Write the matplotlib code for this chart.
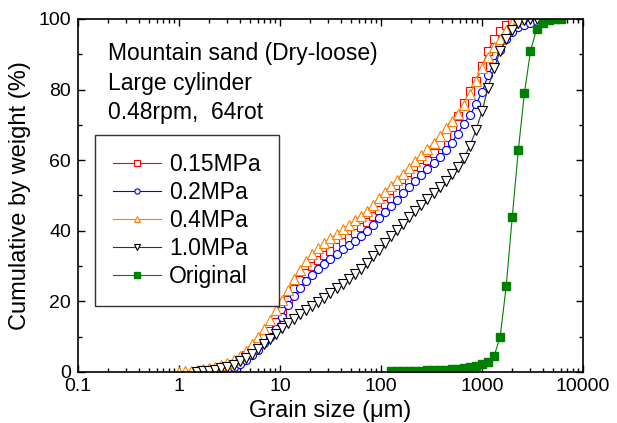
import numpy as np
import matplotlib
matplotlib.use("Agg")
import matplotlib.pyplot as plt
from matplotlib.ticker import LogLocator, MultipleLocator

plt.rcParams['font.family'] = ['Liberation Sans', 'DejaVu Sans']

# grain size channels (um), shared by all the curves
size = [1.000, 1.148, 1.318, 1.514, 1.738, 1.995, 2.291, 2.630, 3.020, 3.467,
        3.981, 4.571, 5.248, 6.026, 6.918, 7.943, 9.120, 10.47, 12.02, 13.80,
        15.85, 18.20, 20.89, 23.99, 27.54, 31.62, 36.31, 41.69, 47.86, 54.95,
        63.10, 72.44, 83.18, 95.50, 109.6, 125.9, 144.5, 166.0, 190.6, 218.8,
        251.2, 288.4, 331.1, 380.2, 436.5, 501.2, 575.4, 660.7, 758.6, 871.0,
        1000, 1148, 1318, 1514, 1738, 1995, 2291, 2630, 3020, 3467,
        3981, 4571, 5248, 6026]
nan = np.nan

p015 = [nan, nan, nan, nan, 0.1, 0.3, 0.6, 1.0, 1.6, 2.4,
        3.4, 4.7, 6.2, 7.9, 9.7, 11.7, 14.2, 17.2, 20.5, 23.5,
        26.0, 28.0, 29.9, 31.6, 33.0, 34.3, 35.5, 36.7, 38.0, 39.5,
        41.0, 42.6, 44.3, 46.0, 47.6, 49.2, 50.8, 52.5, 54.3, 56.2,
        58.0, 60.0, 62.0, 64.2, 66.5, 69.5, 72.5, 76.2, 79.6, 82.5,
        86.6, 91.0, 94.3, 96.6, 98.3, 99.6, 100, nan, nan, nan,
        nan, nan, nan, nan]
p02 = [nan, nan, nan, nan, nan, 0.0, 0.1, 0.4, 0.9, 1.5,
       2.3, 3.3, 4.7, 6.3, 8.1, 10.0, 12.3, 15.6, 19.0, 21.6,
       23.9, 25.9, 27.6, 29.1, 30.5, 31.9, 33.3, 34.7, 36.0, 37.2,
       38.5, 40.0, 41.7, 43.5, 45.4, 47.1, 48.8, 50.6, 52.3, 54.1,
       55.8, 57.5, 59.2, 61.0, 63.0, 65.0, 67.5, 70.3, 72.8, 75.8,
       79.3, 84.0, 87.6, 91.2, 94.3, 96.3, 97.6, 98.4, 99.0, 99.4,
       100, nan, nan, nan]
p04 = [0.1, 0.2, 0.35, 0.55, 0.8, 1.1, 1.45, 2.0, 2.6, 3.4,
       4.6, 6.0, 7.8, 10.0, 12.3, 14.8, 17.5, 20.3, 23.2, 26.3,
       29.0, 31.3, 33.3, 35.0, 36.5, 37.9, 39.1, 40.4, 41.7, 43.0,
       44.3, 45.6, 47.4, 49.3, 51.1, 52.8, 54.5, 56.2, 57.9, 59.7,
       61.4, 63.2, 65.0, 66.9, 69.0, 71.0, 73.2, 75.6, 78.7, 82.3,
       86.0, 89.2, 92.1, 94.4, 96.8, 99.0, 100, nan, nan, nan,
       nan, nan, nan, nan]
p10 = [nan, nan, nan, 0.1, 0.2, 0.4, 0.6, 1.0, 1.5, 2.1,
       3.0, 4.0, 5.2, 6.6, 8.0, 9.4, 10.9, 12.4, 13.8, 15.1,
       16.3, 17.5, 18.7, 19.9, 21.1, 22.4, 23.7, 25.0, 26.3, 27.7,
       29.2, 31.0, 32.8, 34.6, 36.6, 38.4, 40.2, 42.0, 43.8, 45.7,
       47.4, 49.0, 50.6, 52.3, 54.0, 56.0, 58.2, 60.6, 64.0, 68.5,
       73.8, 80.5, 86.0, 91.0, 94.3, 97.0, 98.8, 99.6, 99.9, 100,
       nan, nan, nan, nan]
orig = [nan, nan, nan, nan, nan, nan, nan, nan, nan, nan,
        nan, nan, nan, nan, nan, nan, nan, nan, nan, nan,
        nan, nan, nan, nan, nan, nan, nan, nan, nan, nan,
        nan, nan, nan, nan, nan, 0.15, 0.2, 0.25, 0.3, 0.35,
        0.4, 0.45, 0.5, 0.6, 0.7, 0.8, 0.95, 1.15, 1.4, 1.7,
        2.2, 2.9, 4.5, 10.0, 24.4, 44.0, 63.0, 79.0, 90.9, 97.1,
        99.0, 99.6, 99.9, 100]

labels = ['0.15MPa', '0.2MPa', '0.4MPa', '1.0MPa', 'Original']

fig = plt.figure(figsize=(6.17, 4.23), dpi=100)
ax = fig.add_axes([0.1264, 0.1206, 0.8185, 0.8345])

ms = 5.8
ax.plot(size, p015, color='red', lw=0.8, marker='s', ms=ms, mfc='white', mec='red', mew=0.8, label=labels[0])
ax.plot(size, p02, color='blue', lw=0.8, marker='o', ms=ms, mfc='white', mec='blue', mew=0.8, label=labels[1])
ax.plot(size, p04, color='#FF8000', lw=0.8, marker='^', ms=ms + 1, mfc='white', mec='#FF8000', mew=0.8, label=labels[2])
ax.plot(size, p10, color='#333333', lw=0.8, marker='v', ms=ms + 1, mfc='white', mec='black', mew=0.8, label=labels[3])
ax.plot(size, orig, color='#008000', lw=0.8, marker='s', ms=ms, mfc='#008000', mec='#008000', label=labels[4])

ax.set_xscale('log')
ax.set_xlim(0.1, 10000)
ax.set_ylim(0, 100)
ax.set_xticks([0.1, 1, 10, 100, 1000, 10000])
ax.set_xticklabels(['0.1', '1', '10', '100', '1000', '10000'])
ax.xaxis.set_minor_locator(LogLocator(base=10, subs=np.arange(2, 10), numticks=20))
ax.yaxis.set_major_locator(MultipleLocator(20))
ax.yaxis.set_minor_locator(MultipleLocator(10))
ax.tick_params(which='both', direction='in', top=True, right=True, labelsize=14, width=1)
ax.tick_params(which='major', length=5)
ax.tick_params(which='minor', length=3)
ax.tick_params(axis='y', pad=5)
ax.tick_params(axis='x', pad=4)
for s in ax.spines.values():
    s.set_linewidth(1.2)

ax.set_xlabel('Grain size (\u03bcm)', fontsize=17, labelpad=4)
ax.set_ylabel('Cumulative by weight (%)', fontsize=17, labelpad=5)

ax.text(0.06, 0.935, 'Mountain sand (Dry-loose)\nLarge cylinder\n0.48rpm,  64rot',
        transform=ax.transAxes, fontsize=16.5, va='top', ha='left', linespacing=1.37)

leg = ax.legend(loc='upper left', bbox_to_anchor=(0.034, 0.671), borderaxespad=0,
                fontsize=16.5, handlelength=2.1, markerscale=0.65, labelspacing=0.22,
                fancybox=False, frameon=True, borderpad=0.78, handletextpad=0.35)
leg.get_frame().set_edgecolor('black')
leg.get_frame().set_linewidth(1.0)

fig.savefig('out.png', dpi=100)
